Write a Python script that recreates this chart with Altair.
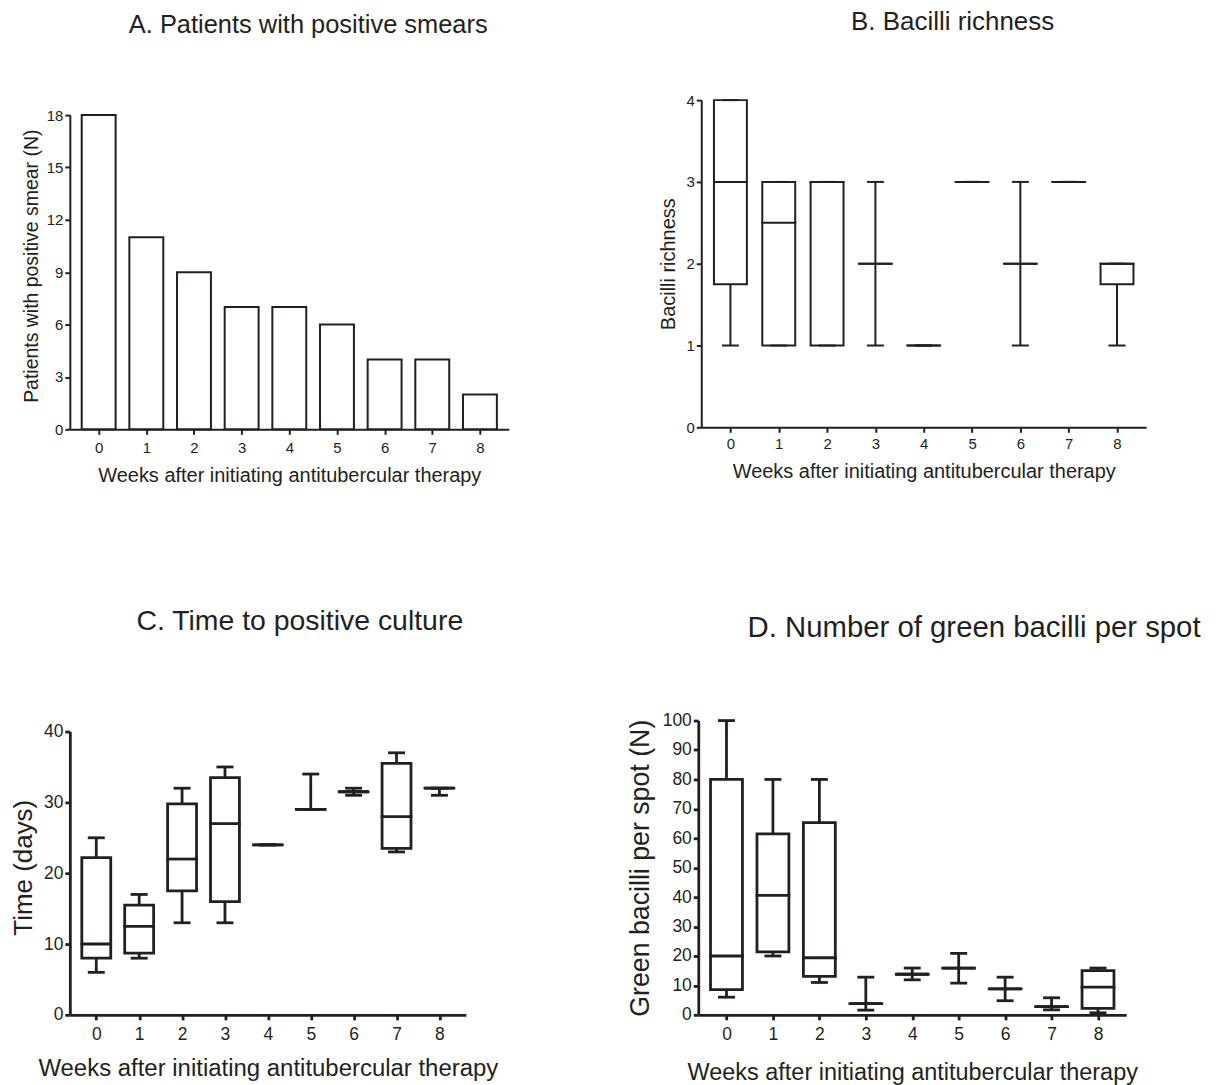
import altair as alt
import pandas as pd

INK = "#231f20"
F = "Liberation Sans, Arial, Helvetica, sans-serif"
XTITLE = "Weeks after initiating antitubercular therapy"

weeks = [0, 1, 2, 3, 4, 5, 6, 7, 8]
smear_counts = [18, 11, 9, 7, 7, 6, 4, 4, 2]

rich_min = [1, 1, 1, 1, 1, 3, 1, 3, 1]
rich_q1 = [1.75, 1, 1, 2, 1, 3, 2, 3, 1.75]
rich_med = [3, 2.5, 3, 2, 1, 3, 2, 3, 2]
rich_q3 = [4, 3, 3, 2, 1, 3, 2, 3, 2]
rich_max = [4, 3, 3, 3, 1, 3, 3, 3, 2]

time_min = [6, 8, 13, 13, 24, 29, 31, 23, 31]
time_q1 = [8, 8.7, 17.5, 16, 24, 29, 31.5, 23.5, 32]
time_med = [10, 12.5, 22, 27, 24, 29, 31.5, 28, 32]
time_q3 = [22.2, 15.5, 29.8, 33.5, 24, 29, 31.5, 35.5, 32]
time_max = [25, 17, 32, 35, 24, 34, 32, 37, 32]

green_min = [6, 20, 11, 1.6, 11.9, 10.8, 4.8, 1.7, 0.7]
green_q1 = [8.6, 21.4, 13.1, 3.8, 13.8, 15.9, 8.8, 2.8, 2.2]
green_med = [20, 40.6, 19.4, 3.8, 13.8, 15.9, 8.8, 2.8, 9.4]
green_q3 = [80, 61.5, 65.3, 3.8, 13.8, 15.9, 8.8, 2.8, 15]
green_max = [100, 80, 80, 12.8, 15.9, 20.9, 12.8, 5.8, 15.9]


def x_axis(sw, lfs, lpad, tfs, tpad):
    return alt.Axis(values=weeks, format="d", grid=False, domainColor=INK, domainWidth=sw,
                    tickColor=INK, tickWidth=sw, tickSize=5, labelFont=F, labelFontSize=lfs,
                    labelColor=INK, labelPadding=lpad, titleFont=F, titleFontSize=tfs,
                    titleFontWeight="normal", titleColor=INK, titlePadding=tpad, title=XTITLE)


def y_axis(values, title, sw, lfs, tfs, tpad, title_y=None):
    kw = {}
    if title_y is not None:
        kw["titleY"] = title_y
    return alt.Axis(values=values, format="d", grid=False, domainColor=INK, domainWidth=sw,
                    tickColor=INK, tickWidth=sw, tickSize=5, labelFont=F, labelFontSize=lfs,
                    labelColor=INK, labelPadding=2, titleFont=F, titleFontSize=tfs,
                    titleFontWeight="normal", titleColor=INK, titlePadding=tpad, title=title, **kw)


def panel_title(text, fs, offset, dx):
    return alt.TitleParams(text=text, font=F, fontSize=fs, fontWeight="normal", color=INK,
                           anchor="middle", offset=offset, dx=dx)


XSCALE = alt.Scale(domain=[-0.5, 8.5], nice=False, zero=False)

# ---- Panel A: bar chart
dfA = pd.DataFrame({"week": weeks, "count": smear_counts})
A_W, A_H = 440, 330
panelA = alt.Chart(dfA).mark_bar(size=34, fill="white", stroke=INK, strokeWidth=2).encode(
    x=alt.X("week:Q", scale=XSCALE, axis=x_axis(2, 15, 6, 20, 10)),
    y=alt.Y("count:Q", scale=alt.Scale(domain=[0, 18], range=[A_H, 15], nice=False),
            axis=y_axis([0, 3, 6, 9, 12, 15, 18], "Patients with positive smear (N)", 2, 15, 19.5, 5,
                        title_y=166)),
).properties(width=A_W, height=A_H,
             title=panel_title("A. Patients with positive smears", 25.5, 62, 19))


def box_panel(mins, q1s, meds, q3s, maxs, *, width, height, top, ymax, ytitle,
              box_w, cap_w, sw, xax, yax, title):
    df = pd.DataFrame({"week": weeks, "lo": mins, "q1": q1s, "med": meds, "q3": q3s, "hi": maxs})
    ysc = alt.Scale(domain=[0, ymax], range=[height, top], nice=False, zero=True)
    xe = alt.X("week:Q", scale=XSCALE, axis=xax)

    def ye(f):
        return alt.Y(f + ":Q", scale=ysc, axis=yax, title=ytitle)

    base = alt.Chart(df)
    whisk = base.mark_rule(color=INK, strokeWidth=sw).encode(x=xe, y=ye("lo"), y2="hi:Q")
    box = base.mark_bar(size=box_w, fill="white", stroke=INK, strokeWidth=sw).encode(
        x=xe, y=ye("q1"), y2="q3:Q")
    med = base.mark_tick(size=box_w + sw, thickness=sw, orient="horizontal", color=INK, opacity=1).encode(
        x=xe, y=ye("med"))
    cap_lo = base.mark_tick(size=cap_w, thickness=sw, orient="horizontal", color=INK, opacity=1).encode(
        x=xe, y=ye("lo"))
    cap_hi = base.mark_tick(size=cap_w, thickness=sw, orient="horizontal", color=INK, opacity=1).encode(
        x=xe, y=ye("hi"))
    return alt.layer(whisk, box, med, cap_lo, cap_hi).properties(width=width, height=height, title=title)


panelB = box_panel(rich_min, rich_q1, rich_med, rich_q3, rich_max,
                   width=446, height=328, top=0, ymax=4,
                   ytitle="Bacilli richness", box_w=33, cap_w=17, sw=2,
                   xax=x_axis(2, 15, 4, 20, 10.5),
                   yax=y_axis([0, 1, 2, 3, 4], "Bacilli richness", 2, 15, 20, 7),
                   title=panel_title("B. Bacilli richness", 26, 58, 29))

panelC = box_panel(time_min, time_q1, time_med, time_q3, time_max,
                   width=397, height=295, top=11, ymax=40,
                   ytitle="Time (days)", box_w=29, cap_w=17, sw=2.8,
                   xax=x_axis(2.8, 17.5, 6, 24, 13.5),
                   yax=y_axis([0, 10, 20, 30, 40], "Time (days)", 2.8, 17.5, 26, 7, title_y=147),
                   title=panel_title("C. Time to positive culture", 28.5, 85, 32))

panelD = box_panel(green_min, green_q1, green_med, green_q3, green_max,
                   width=429, height=295, top=0, ymax=100,
                   ytitle="Green bacilli per spot (N)", box_w=32, cap_w=17, sw=2.8,
                   xax=x_axis(2.8, 17.5, 6, 23.5, 17),
                   yax=y_axis(list(range(0, 101, 10)), "Green bacilli per spot (N)", 2.8, 17.5, 26.8, 8),
                   title=panel_title("D. Number of green bacilli per spot", 29.4, 68, 62))

row1 = alt.hconcat(panelA, panelB, spacing=193, bounds="flush")
row2 = alt.hconcat(panelC, panelD, spacing=233, bounds="flush")
chart = alt.vconcat(row1, row2, spacing=622, bounds="flush").properties(
    padding={"left": 2, "top": 0, "right": 10, "bottom": 10}
).configure_view(stroke=None)

chart.save("out.html", embed_options={"renderer": "svg", "actions": False})
